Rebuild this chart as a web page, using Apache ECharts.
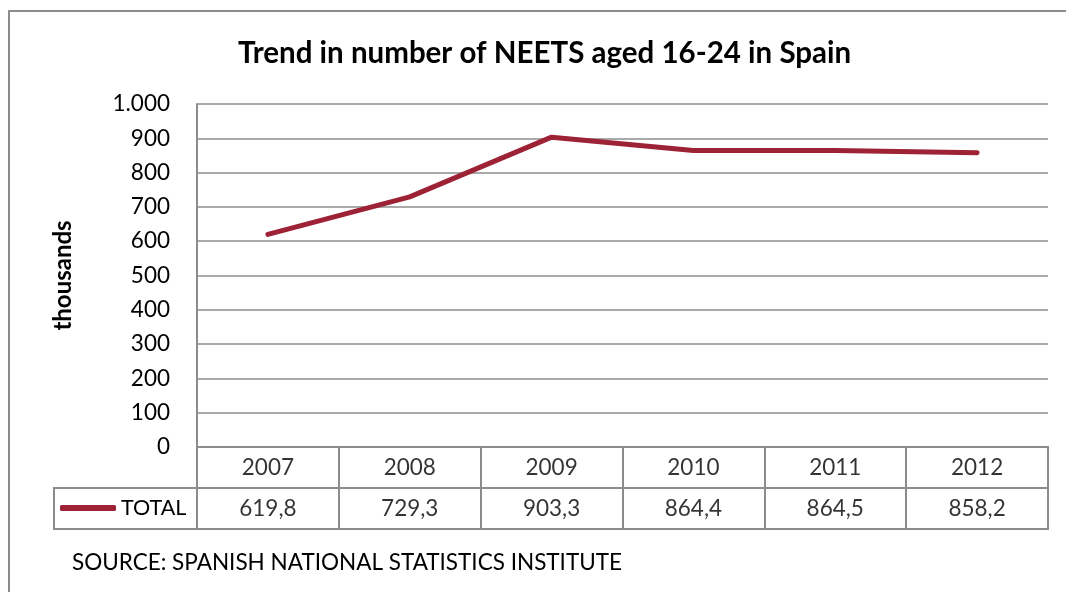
<!DOCTYPE html>
<html>
<head>
<meta charset="utf-8">
<script src="https://cdn.jsdelivr.net/npm/echarts@6/dist/echarts.min.js"></script>
<style>html,body{margin:0;padding:0;background:#fff;}#c{width:1066px;height:592px;}</style>
</head>
<body>
<div id="c"></div>
<script>
const years = ['2007', '2008', '2009', '2010', '2011', '2012'];
const totals = [619.8, 729.3, 903.3, 864.4, 864.5, 858.2];
const seriesName = 'TOTAL';
const yMin = 0, yMax = 1000, yStep = 100;

const FONT = 'Lato, "Open Sans", sans-serif';
const GRID_COLOR = '#8c8c8c';
const LINE_COLOR = '#9E2236';

function thousands(v) {
  return String(v).replace(/\B(?=(\d{3})+(?!\d))/g, '.');
}
function decimalComma(v) {
  return v.toFixed(1).replace('.', ',');
}

const chart = echarts.init(document.getElementById('c'), null, {renderer: 'canvas'});
chart.setOption({
  backgroundColor: '#fff',
  animation: false,
  title: [
    {text: 'Trend in number of NEETS aged 16-24 in Spain', left: 238, top: 38, padding: 0,
     textStyle: {fontFamily: FONT, fontSize: 29.5, fontWeight: 'bold', color: '#000'}},
    {text: 'SOURCE: SPANISH NATIONAL STATISTICS INSTITUTE', left: 72, top: 551, padding: 0,
     textStyle: {fontFamily: FONT, fontSize: 22.5, fontWeight: 'normal', color: '#000'}}
  ],
  legend: {
    data: [seriesName], left: 60, top: 497, padding: 0, icon: 'roundRect',
    itemWidth: 56, itemHeight: 6, itemGap: 0,
    textStyle: {fontFamily: FONT, fontSize: 21.5, color: '#000', padding: [0, 0, 0, 0]}
  },
  graphic: [
    {type: 'rect', shape: {x: 9, y: 11, width: 1200, height: 800},
     style: {fill: 'none', stroke: '#8c8c8c', lineWidth: 2}, silent: true, z: -1},
    {type: 'rect', shape: {x: 54, y: 488, width: 143, height: 41},
     style: {fill: 'none', stroke: GRID_COLOR, lineWidth: 2}, silent: true}
  ],
  grid: [
    {left: 197, top: 104, width: 851, height: 343, show: false},
    {left: 197, top: 447, width: 851, height: 82, show: true, borderColor: GRID_COLOR, borderWidth: 2}
  ],
  xAxis: [
    {type: 'category', gridIndex: 0, data: years, boundaryGap: true,
     axisLine: {show: true, lineStyle: {color: GRID_COLOR, width: 2}},
     axisTick: {show: false}, axisLabel: {show: false}, splitLine: {show: false}},
    {type: 'category', gridIndex: 1, data: years, boundaryGap: true,
     axisLine: {show: false}, axisTick: {show: false}, axisLabel: {show: false},
     splitLine: {show: true, lineStyle: {color: GRID_COLOR, width: 2}}}
  ],
  yAxis: [
    {type: 'value', gridIndex: 0, min: yMin, max: yMax, interval: yStep,
     name: 'thousands', nameLocation: 'middle', nameRotate: 90, nameGap: 122,
     nameTextStyle: {fontFamily: FONT, fontSize: 24, fontWeight: 'bold', color: '#000'},
     axisLine: {show: true, lineStyle: {color: GRID_COLOR, width: 2}},
     axisTick: {show: false},
     axisLabel: {fontFamily: FONT, fontSize: 22.5, color: '#000', margin: 27, formatter: v => thousands(v)},
     splitLine: {show: true, lineStyle: {color: GRID_COLOR, width: 1.5}}},
    {type: 'category', gridIndex: 1, data: ['value', 'year'], boundaryGap: true,
     axisLine: {show: false}, axisTick: {show: false}, axisLabel: {show: false},
     splitLine: {show: true, lineStyle: {color: GRID_COLOR, width: 2}}}
  ],
  series: [
    {name: seriesName, type: 'line', xAxisIndex: 0, yAxisIndex: 0, data: totals,
     symbol: 'none', color: LINE_COLOR,
     lineStyle: {color: LINE_COLOR, width: 5, cap: 'round', join: 'round'}},
    {type: 'scatter', xAxisIndex: 1, yAxisIndex: 1, symbolSize: 1,
     itemStyle: {color: 'rgba(0,0,0,0)'}, silent: true,
     data: years.map(y => [y, 'year']),
     label: {show: true, position: 'inside', fontFamily: FONT, fontSize: 22.5, color: '#000',
             formatter: p => p.value[0]}},
    {type: 'scatter', xAxisIndex: 1, yAxisIndex: 1, symbolSize: 1,
     itemStyle: {color: 'rgba(0,0,0,0)'}, silent: true,
     data: years.map((y, i) => [y, 'value', totals[i]]),
     label: {show: true, position: 'inside', fontFamily: FONT, fontSize: 22.5, color: '#000',
             formatter: p => decimalComma(p.value[2])}}
  ]
});
</script>
</body>
</html>
